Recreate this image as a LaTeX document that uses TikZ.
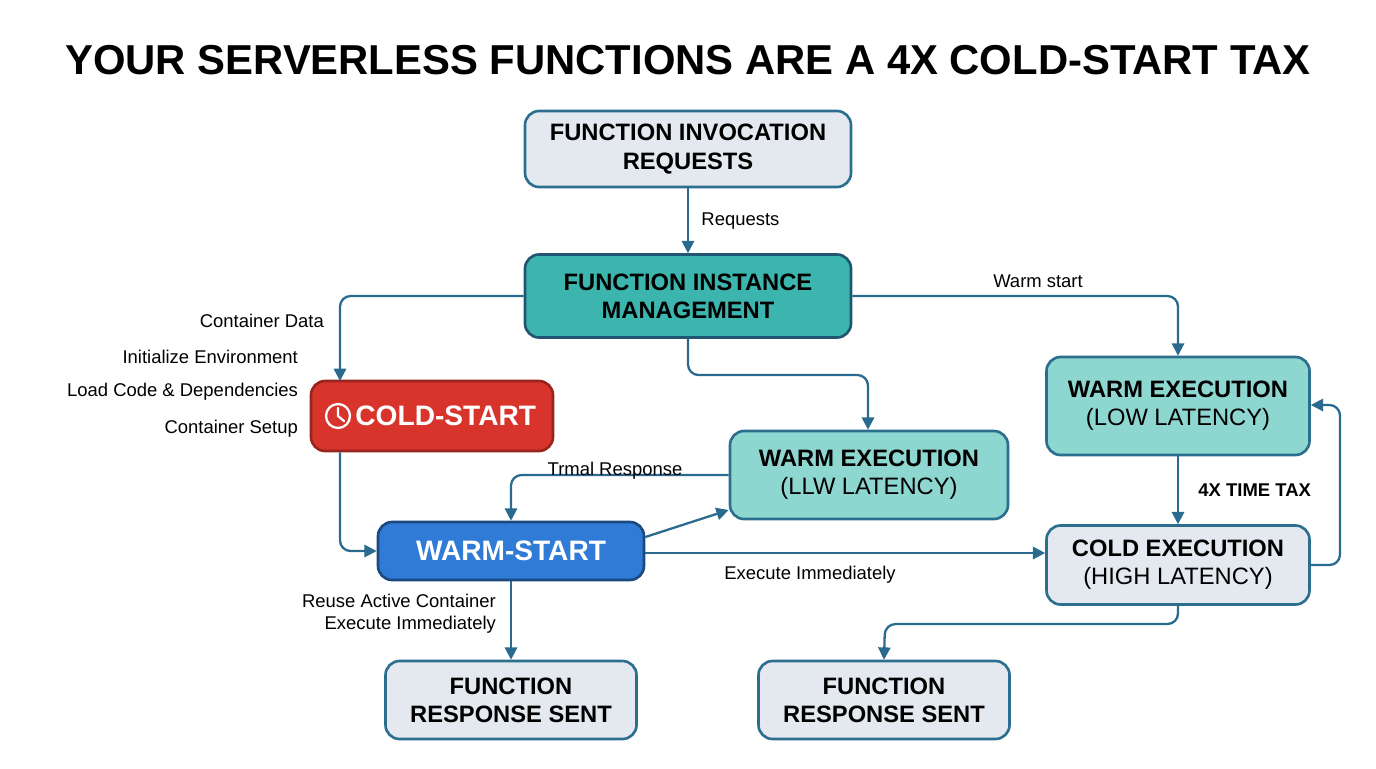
\documentclass[tikz,border=0pt]{standalone}
\usepackage{fontspec}
\setmainfont{Liberation Sans}
\usetikzlibrary{arrows.meta}
\definecolor{edge}{HTML}{2A6A8E}
\definecolor{bord}{HTML}{2C6E8E}
\definecolor{lgrey}{HTML}{E3E9EF}
\definecolor{teal1}{HTML}{3BB5AE}
\definecolor{teal2}{HTML}{8ED6D0}
\definecolor{redc}{HTML}{D9342B}
\definecolor{bluec}{HTML}{2F7BD6}
\begin{document}
\begin{tikzpicture}[x=0.02cm,y=-0.02cm,
 box/.style={draw=bord,line width=1.5pt,rounded corners=8pt,font=\bfseries\fontsize{13.5}{16}\selectfont,align=center,inner sep=0pt},
 arr/.style={draw=edge,line width=1.3pt,-{Triangle[length=7pt,width=7pt]}},
 lab/.style={font=\fontsize{10.5}{12}\selectfont,inner sep=1pt}]
\useasboundingbox (0,0) rectangle (1376,768);
\node[font=\bfseries\fontsize{23.8}{28}\selectfont] (title) at (688,60) {YOUR SERVERLESS FUNCTIONS ARE A 4X COLD-START TAX};
\node[box,fill=lgrey,minimum width=326*0.02cm,minimum height=76*0.02cm] (fir) at (688,149) {FUNCTION INVOCATION\\REQUESTS};
\node[box,fill=teal1,draw=edge!80!black,minimum width=326*0.02cm,minimum height=83*0.02cm] (fim) at (688,296) {FUNCTION INSTANCE\\MANAGEMENT};
\node[box,fill=redc,draw=redc!70!black,text=white,minimum width=242*0.02cm,minimum height=70*0.02cm,font=\bfseries\fontsize{16}{18}\selectfont] (cs) at (432,416) {\hspace{0.55cm}COLD-START};
\draw[white,line width=1.3pt] (338,416) circle (12);
\draw[white,line width=1.3pt,line cap=round,line join=round] (338,408) -- (338,416) -- (344,421);
\node[box,fill=bluec,draw=bluec!60!black,text=white,minimum width=266*0.02cm,minimum height=58*0.02cm,font=\bfseries\fontsize{16}{18}\selectfont] (ws) at (511,551) {WARM-START};
\node[box,fill=teal2,minimum width=278*0.02cm,minimum height=88*0.02cm] (wem) at (869,475) {WARM EXECUTION\\{\mdseries (LLW LATENCY)}};
\node[box,fill=teal2,minimum width=263*0.02cm,minimum height=98*0.02cm] (wer) at (1178,406) {WARM EXECUTION\\{\mdseries (LOW LATENCY)}};
\node[box,fill=lgrey,minimum width=263*0.02cm,minimum height=79*0.02cm] (ce) at (1178,565) {COLD EXECUTION\\{\mdseries (HIGH LATENCY)}};
\node[box,fill=lgrey,minimum width=251*0.02cm,minimum height=78*0.02cm] (fr1) at (511,700) {FUNCTION\\RESPONSE SENT};
\node[box,fill=lgrey,minimum width=251*0.02cm,minimum height=78*0.02cm] (fr2) at (884,700) {FUNCTION\\RESPONSE SENT};
% edges
\draw[arr] (fir) -- (fim) node[lab,midway,right=6pt] {Requests};
\draw[arr,rounded corners=6pt] (fim.west) -| (340,381);
\draw[arr,rounded corners=6pt] (fim.east) -| (wer.north);
\draw[arr,rounded corners=6pt] (fim.south) |- (868,375) -- (wem.north-|868,0);
\draw[arr,rounded corners=6pt] (cs.south-|340,0) |- (ws.west);
\draw[arr,rounded corners=6pt] (wem.west) -| (ws.north);
\draw[arr] (ws.east|-0,537) -- (wem.west|-0,510);
\draw[arr] (ws.east|-0,553) -- (ce.west|-0,553);
\draw[arr] (ws.south) -- (fr1.north);
\draw[arr] (wer.south) -- (ce.north) node[lab,midway,right=10pt,font=\bfseries\fontsize{10.5}{12}\selectfont] {4X TIME TAX};
\draw[arr,rounded corners=6pt] (ce.east) -| (1340,405) -- (wer.east|-0,405);
\draw[arr,rounded corners=6pt] (ce.south) |- (885,624) -- (fr2.north);
% labels
\node[lab] (l0) at (1038,281) {Warm start};
\node[lab,anchor=east] (l1) at (326,321) {Container Data};
\node[lab,anchor=east] (l2) at (300,357) {Initialize Environment};
\node[lab,anchor=east] (l3) at (300,392) {Load Code \& Dependencies};
\node[lab,anchor=east] (l4) at (300,429) {Container Setup};
\node[lab] (l5) at (615,471) {Trmal Response};
\node[lab] (l6) at (810,575) {Execute Immediately};
\node[lab,anchor=east] (l7) at (498,601) {Reuse Active Container};
\node[lab,anchor=east] (l8) at (498,625) {Execute Immediately};
\end{tikzpicture}
\end{document}
